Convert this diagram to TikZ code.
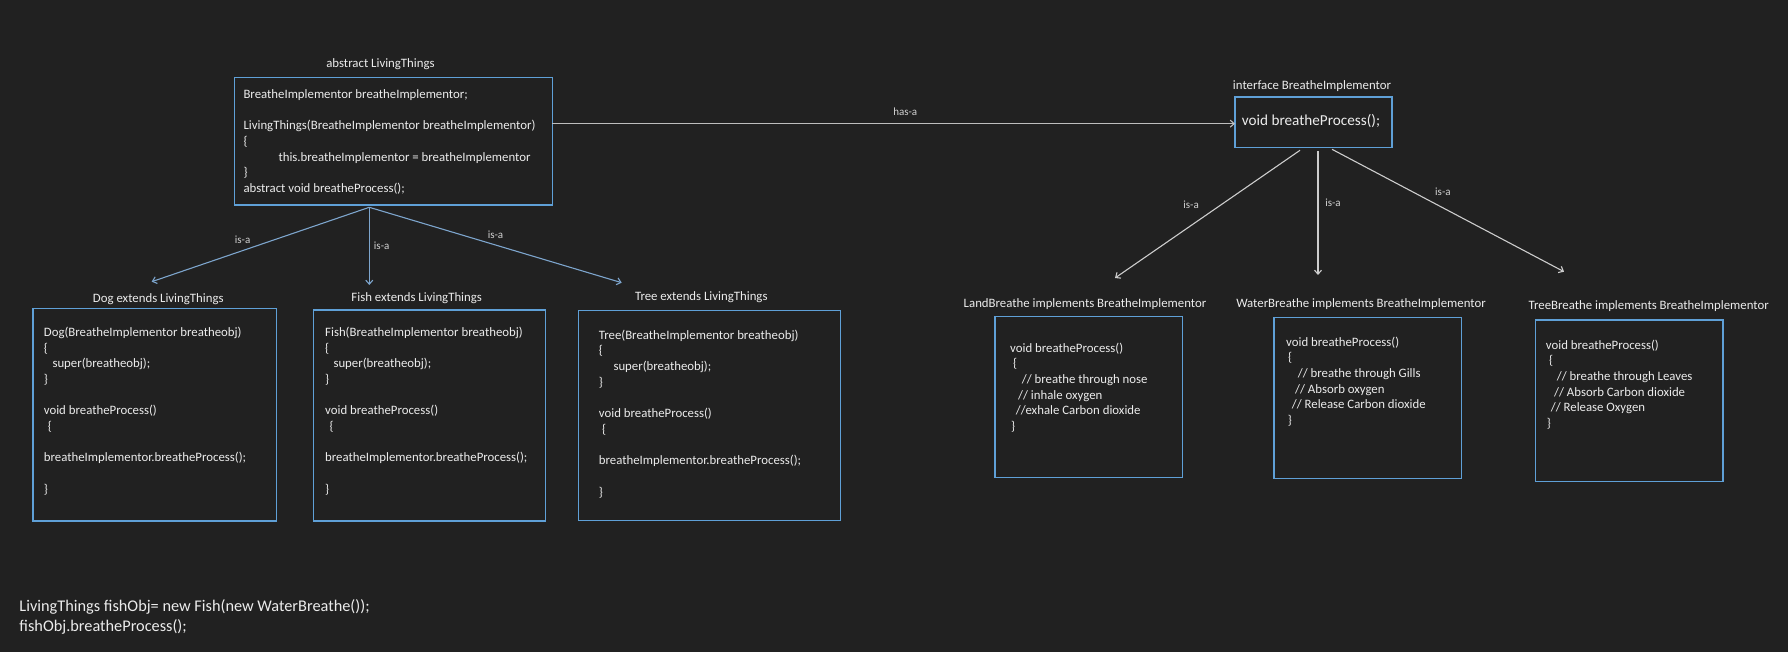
\documentclass[tikz,border=0pt]{standalone}
\usepackage{fontspec}
\setmainfont{Carlito}
\usetikzlibrary{arrows.meta,calc}
\definecolor{bgc}{RGB}{33,33,33}
\definecolor{boxblue}{RGB}{95,160,215}
\definecolor{ltarrow}{RGB}{125,165,205}
\definecolor{grayarrow}{RGB}{205,205,205}
\definecolor{txt}{RGB}{236,236,236}
\definecolor{lbltxt}{RGB}{210,210,210}
\newcommand{\codeblock}[1]{\begin{tabular}[t]{@{}l@{}}#1\end{tabular}}
\begin{document}
\begin{tikzpicture}[x=1pt,y=-1pt,
  box/.style={draw=boxblue, line width=1.4pt, inner sep=0pt, outer sep=0pt},
  code/.style={text=txt, inner sep=0pt, anchor=base west, font={\fontsize{12.8}{15.7}\selectfont}},
  ttl/.style={text=txt, inner sep=0pt, anchor=base, font={\fontsize{12.8}{15.7}\selectfont}},
  lbl/.style={text=lbltxt, inner sep=0pt, font={\fontsize{11}{13}\selectfont}},
  ltarr/.style={draw=ltarrow, line width=1.1pt, -{Straight Barb[length=4pt,width=7pt]}},
  garr/.style={draw=grayarrow, line width=1.1pt, -{Straight Barb[length=4pt,width=7pt]}}
]
\fill[bgc] (0,0) rectangle (1788,652);
\useasboundingbox (0,0) rectangle (1788,652);

% ---------- boxes ----------
\node[box, minimum width=317.6pt, minimum height=127.3pt] (LT) at (393.5,141.35) {};
\node[box, minimum width=243.7pt, minimum height=212.7pt] (Dog) at (154.85,414.65) {};
\node[box, minimum width=232.4pt, minimum height=211pt] (Fish) at (429.5,415.5) {};
\node[box, minimum width=262pt, minimum height=210pt] (Tree) at (709.3,415.7) {};
\node[box, minimum width=157pt, minimum height=50.3pt] (Iface) at (1313.5,122.15) {};
\node[box, minimum width=187.3pt, minimum height=160.6pt] (Land) at (1088.65,397) {};
\node[box, minimum width=187.3pt, minimum height=161pt] (Water) at (1367.65,397.8) {};
\node[box, minimum width=187.3pt, minimum height=161.7pt] (TreeB) at (1629.35,400.85) {};

% ---------- titles ----------
\node[ttl] (ltTitle) at (380.5,67.3) {abstract LivingThings};
\node[ttl] (dogTitle) at (158.3,302.3) {Dog extends LivingThings};
\node[ttl] (fishTitle) at (416.7,301.7) {Fish extends LivingThings};
\node[ttl] (treeTitle) at (701.3,301) {Tree extends LivingThings};
\node[ttl] (ifaceTitle) at (1312,90) {interface BreatheImplementor};
\node[ttl] (landTitle) at (1085,308) {LandBreathe implements BreatheImplementor};
\node[ttl] (waterTitle) at (1361,308) {WaterBreathe implements BreatheImplementor};
\node[ttl] (treeBTitle) at (1648.7,309) {TreeBreathe implements BreatheImplementor};

% ---------- code texts ----------
\node[code] (ltText) at (243.3,98.3) {\codeblock{%
BreatheImplementor breatheImplementor;\\
\\
LivingThings(BreatheImplementor breatheImplementor)\\
\{\\
\hspace*{35pt}this.breatheImplementor = breatheImplementor\\
\}\\
abstract void breatheProcess();}};

\node[code] (dogText) at (43.7,336.3) {\codeblock{%
Dog(BreatheImplementor breatheobj)\\
\{\\
\hspace*{8.6pt}super(breatheobj);\\
\}\\
\\
void breatheProcess()\\
\hspace*{4pt}\{\\
\\
breatheImplementor.breatheProcess();\\
\\
\}}};

\node[code] (fishText) at (325,336.3) {\codeblock{%
Fish(BreatheImplementor breatheobj)\\
\{\\
\hspace*{8.3pt}super(breatheobj);\\
\}\\
\\
void breatheProcess()\\
\hspace*{4.3pt}\{\\
\\
breatheImplementor.breatheProcess();\\
\\
\}}};

\node[code] (treeText) at (598.7,339) {\codeblock{%
Tree(BreatheImplementor breatheobj)\\
\{\\
\hspace*{14.6pt}super(breatheobj);\\
\}\\
\\
void breatheProcess()\\
\hspace*{3.3pt}\{\\
\\
breatheImplementor.breatheProcess();\\
\\
\}}};

\node[text=txt, inner sep=0pt, anchor=base west, font={\fontsize{15.2}{18}\selectfont}] (ifaceText) at (1241.7,125.3) {void breatheProcess();};

\node[code] (landText) at (1010,352) {\codeblock{%
void breatheProcess()\\
\hspace*{3pt}\{\\
\hspace*{11.7pt}// breathe through nose\\
\hspace*{8pt}// inhale oxygen\\
\hspace*{5.7pt}//exhale Carbon dioxide\\
\hspace*{1pt}\}}};

\node[code] (waterText) at (1286,346) {\codeblock{%
void breatheProcess()\\
\hspace*{2pt}\{\\
\hspace*{11.7pt}// breathe through Gills\\
\hspace*{9pt}// Absorb oxygen\\
\hspace*{5.7pt}// Release Carbon dioxide\\
\hspace*{1.7pt}\}}};

\node[code] (treeBText) at (1545.7,349) {\codeblock{%
void breatheProcess()\\
\hspace*{3.3pt}\{\\
\hspace*{11pt}// breathe through Leaves\\
\hspace*{8.3pt}// Absorb Carbon dioxide\\
\hspace*{5pt}// Release Oxygen\\
\hspace*{1pt}\}}};

\node[text=txt, inner sep=0pt, anchor=base west, font={\fontsize{16.3}{20}\selectfont}] (mainText) at (19.3,611.5) {\codeblock{%
LivingThings fishObj= new Fish(new WaterBreathe());\\
fishObj.breatheProcess();}};

% ---------- connectors ----------
\coordinate (ltO) at ($(LT.south)+(-24.2,2.3)$);
\coordinate (dogIn) at (151.7,281.7);
\coordinate (fishIn) at (369.3,285);
\coordinate (treeIn) at (621.7,282.7);
\draw[ltarr] (ltO) -- node[lbl,pos=0.582,yshift=11.3pt]{is-a} (dogIn);
\draw[ltarr] (ltO) -- node[lbl,pos=0.5,xshift=12.4pt]{is-a} (fishIn);
\draw[ltarr] (ltO) -- node[lbl,pos=0.5,yshift=10pt]{is-a} (treeIn);

\coordinate (hasEnd) at ($(Iface.west)+(0,1.5)$);
\draw[garr, draw={rgb,255:red,190;green,190;blue,190}] (hasEnd -| LT.east) -- node[lbl,pos=0.517,yshift=11.5pt]{has-a} (hasEnd);

\coordinate (landIn) at (1115,278);
\coordinate (waterIn) at (1318,275);
\coordinate (treeBIn) at (1564,271.7);
\draw[garr] ($(Iface.south)+(-13.5,3)$) -- node[lbl,pos=0.589,yshift=20.4pt]{is-a} (landIn);
\draw[garr] ($(Iface.south)+(4.5,3.5)$) -- node[lbl,pos=0.42,xshift=15pt]{is-a} (waterIn);
\draw[garr] ($(Iface.south)+(18.5,2)$) -- node[lbl,pos=0.478,yshift=15.7pt]{is-a} (treeBIn);
\end{tikzpicture}
\end{document}
